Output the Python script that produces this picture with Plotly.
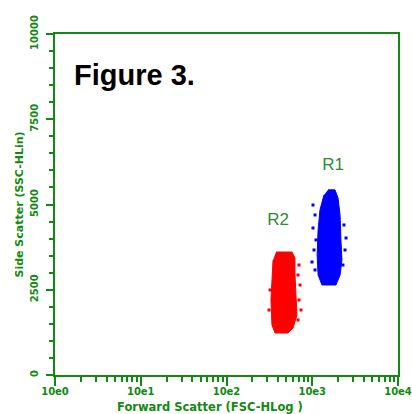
import plotly.graph_objects as go

# --- data ---
# R1 (blue) population outline: Forward Scatter (FSC, log) / Side Scatter (SSC, lin)
r1_fsc = [1530, 1840, 2000, 2110, 2160, 2220, 2110, 1890, 1300, 1170, 1140, 1170, 1230, 1370]
r1_ssc = [5430, 5430, 5190, 4690, 3960, 3370, 2930, 2640, 2640, 2930, 3520, 4250, 4840, 5280]
# R1 scattered events
r1_out_fsc = [1020, 1077, 1020, 1106, 1048, 993, 1077, 2344, 2410, 2280, 2478]
r1_out_ssc = [4986, 4693, 4311, 3960, 3666, 3314, 3080, 4400, 3666, 3226, 4018]

# R2 (red) population outline
r2_fsc = [378, 580, 629, 629, 646, 664, 597, 521, 368, 339, 330, 339, 349]
r2_ssc = [3607, 3607, 3431, 2933, 2346, 1760, 1378, 1232, 1232, 1466, 2200, 2933, 3373]
# R2 scattered events
r2_out_fsc = [682, 720, 700, 739, 682, 322, 313, 700]
r2_out_ssc = [2933, 2640, 2200, 1906, 1613, 2493, 1906, 3226]

# region labels
region_names = ["R1", "R2"]
region_fsc = [1746, 399]
region_ssc = [6130, 4516]

# axis ticks
x_tickvals = [1, 10, 100, 1000, 10000]
x_ticktext = ["10e0", "10e1", "10e2", "10e3", "10e4"]
x_minor_vals = [m * d for d in (1, 10, 100, 1000) for m in range(2, 10)]
y_tickvals = [0, 2500, 5000, 7500, 10000]
y_ticktext = ["0", "2500", "5000", "7500", "10000"]

GREEN = "#128a12"
LABEL_GREEN = "#2e8b2e"
AXFONT = "DejaVu Sans"

fig = go.Figure()
fig.add_trace(go.Scatter(x=r1_fsc, y=r1_ssc, mode="lines", fill="toself",
                         fillcolor="#0000ff", line=dict(color="#0000ff", width=1),
                         hoverinfo="skip", showlegend=False))
fig.add_trace(go.Scatter(x=r1_out_fsc, y=r1_out_ssc, mode="markers",
                         marker=dict(color="#0000ff", size=3, symbol="square"),
                         showlegend=False))
fig.add_trace(go.Scatter(x=r2_fsc, y=r2_ssc, mode="lines", fill="toself",
                         fillcolor="#ff0000", line=dict(color="#ff0000", width=1),
                         hoverinfo="skip", showlegend=False))
fig.add_trace(go.Scatter(x=r2_out_fsc, y=r2_out_ssc, mode="markers",
                         marker=dict(color="#ff0000", size=3, symbol="square"),
                         showlegend=False))
fig.add_trace(go.Scatter(x=region_fsc, y=region_ssc, mode="text", text=region_names,
                         textfont=dict(family="Arial, Liberation Sans", size=17, color=LABEL_GREEN),
                         showlegend=False))

fig.add_annotation(text="<b>Figure 3.</b>", xref="paper", yref="paper", x=0.05, y=0.88,
                   xanchor="left", yanchor="middle", showarrow=False,
                   font=dict(family="Arial, Liberation Sans", size=29, color="black"))

# x-axis title placed as an annotation (it sits left of centre in the reference)
fig.add_annotation(text="Forward Scatter (FSC-HLog )", xref="paper", yref="paper",
                   x=0.453, y=-0.095, xanchor="center", yanchor="middle", showarrow=False,
                   font=dict(family=AXFONT, size=11.5, color=GREEN, weight="bold"))

fig.update_xaxes(type="log", range=[0, 4], tickvals=x_tickvals, ticktext=x_ticktext,
                 showgrid=False, zeroline=False, showline=True, linecolor=GREEN, linewidth=2,
                 mirror=True, ticks="outside", ticklen=9, tickwidth=2, tickcolor=GREEN,
                 minor=dict(ticks="outside", ticklen=5, tickwidth=2, tickcolor=GREEN,
                            tickmode="array", tickvals=x_minor_vals, showgrid=False),
                 tickfont=dict(family=AXFONT, size=10, color=GREEN, weight="bold"),
                 ticklabelstandoff=-3, automargin=False, ticklabeloverflow="allow")
fig.update_yaxes(range=[0, 10000], tickvals=y_tickvals, ticktext=y_ticktext, tickangle=-90,
                 showgrid=False, zeroline=False, showline=True, linecolor=GREEN, linewidth=2,
                 mirror=True, ticks="outside", ticklen=7, tickwidth=2, tickcolor=GREEN,
                 minor=dict(ticks="outside", ticklen=4, tickwidth=2, tickcolor=GREEN,
                            dtick=500, showgrid=False),
                 tickfont=dict(family=AXFONT, size=10, color=GREEN, weight="bold"),
                 ticklabelstandoff=4, automargin=False,
                 title=dict(text="Side Scatter (SSC-HLin)", standoff=3,
                            font=dict(family=AXFONT, size=11, color=GREEN, weight="bold")))

fig.update_layout(width=412, height=414, margin=dict(l=55, r=14, t=34, b=39),
                  plot_bgcolor="white", paper_bgcolor="white")
# remove the page's default body margin so the figure fills the window exactly
fig.write_html("out.html", config={"displayModeBar": False},
               post_script="document.body.style.margin='0';document.body.style.overflow='hidden';")
